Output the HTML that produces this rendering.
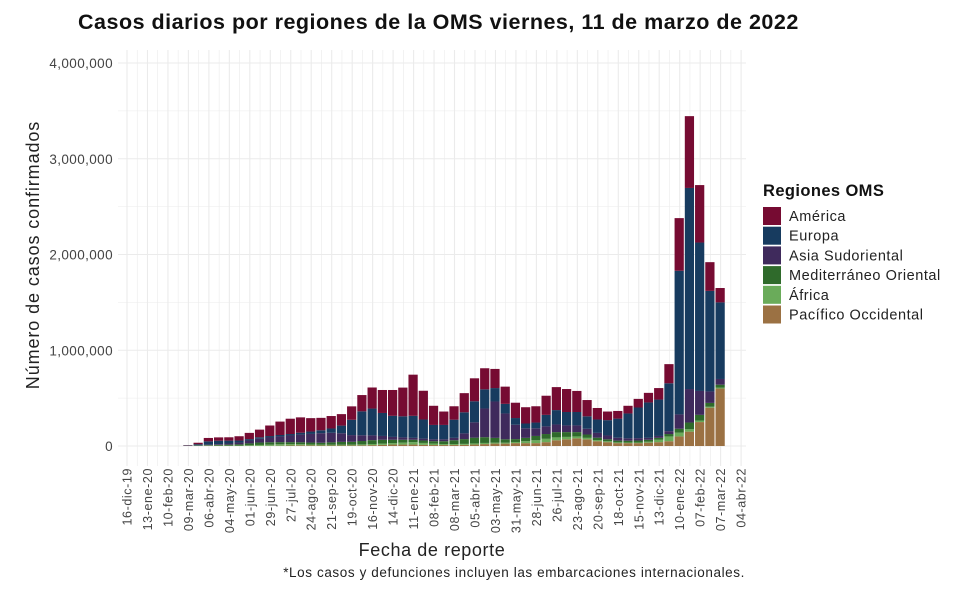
<!DOCTYPE html>
<html><head><meta charset="utf-8"><style>
body{margin:0;background:#fff;font-family:"Liberation Sans",sans-serif}
svg text{font-family:"Liberation Sans",sans-serif}
</style></head><body>
<svg id="chart" width="960" height="584" xmlns="http://www.w3.org/2000/svg">
<rect width="960" height="584" fill="#fff"/>
<text x="78" y="29" font-size="21.5" font-weight="bold" fill="#111" letter-spacing="0.5">Casos diarios por regiones de la OMS viernes, 11 de marzo de 2022</text>
<g id="grid"></g><g id="bars"></g><g id="axes"></g>
<text transform="translate(39,255) rotate(-90)" text-anchor="middle" font-size="18" letter-spacing="0.9" fill="#222">Número de casos confirmados</text>
<text x="432" y="556" text-anchor="middle" font-size="18" letter-spacing="0.6" fill="#222">Fecha de reporte</text>
<text x="745" y="577" text-anchor="end" font-size="13.5" letter-spacing="0.6" fill="#222">*Los casos y defunciones incluyen las embarcaciones internacionales.</text>
<g id="legend">
<text x="763" y="196" font-size="16.5" font-weight="bold" letter-spacing="0.4" fill="#111">Regiones OMS</text>
</g>
</svg>
<script>
const xLabels=["16-dic-19","13-ene-20","10-feb-20","09-mar-20","06-abr-20","04-may-20","01-jun-20","29-jun-20","27-jul-20","24-ago-20","21-sep-20","19-oct-20","16-nov-20","14-dic-20","11-ene-21","08-feb-21","08-mar-21","05-abr-21","03-may-21","31-may-21","28-jun-21","26-jul-21","23-ago-21","20-sep-21","18-oct-21","15-nov-21","13-dic-21","10-ene-22","07-feb-22","07-mar-22","04-abr-22"];
const yTicks=[0,1000000,2000000,3000000,4000000];
const yTickLabels=["0","1,000,000","2,000,000","3,000,000","4,000,000"];
const regions=["América","Europa","Asia Sudoriental","Mediterráneo Oriental","África","Pacífico Occidental"];
const colors=["#760b32","#173b5f","#3f2a5c","#2f6a2b","#6aab5a","#9b7143"];
// biweekly bins starting 2020-03-02 (day 77 from 16-dic-19), values in millions
const binStartDay=77, binDays=14;
const america=[.003,.015,.035,.035,.035,.045,.065,.08,.11,.14,.16,.16,.14,.13,.13,.12,.14,.17,.22,.24,.27,.3,.43,.3,.2,.14,.14,.2,.24,.22,.2,.18,.16,.17,.17,.2,.24,.24,.22,.17,.12,.09,.08,.08,.09,.1,.12,.2,.55,.75,.6,.3,.15];
const europa=[.004,.012,.035,.035,.03,.02,.015,.015,.015,.015,.015,.02,.025,.03,.045,.08,.16,.25,.28,.24,.22,.22,.23,.2,.15,.15,.19,.22,.22,.2,.14,.1,.07,.05,.06,.12,.15,.14,.14,.13,.14,.16,.2,.26,.32,.37,.38,.5,1.5,2.1,1.55,1.05,.8];
const asiaSud=[0,.001,.005,.008,.012,.02,.03,.04,.05,.06,.07,.08,.09,.1,.1,.09,.07,.06,.05,.04,.03,.025,.02,.02,.02,.02,.025,.06,.16,.3,.38,.27,.15,.1,.08,.08,.08,.07,.07,.06,.05,.04,.03,.025,.025,.02,.02,.03,.15,.35,.25,.12,.06];
const medOriental=[.001,.004,.005,.008,.01,.012,.02,.025,.025,.022,.02,.02,.02,.02,.025,.03,.03,.035,.04,.04,.035,.03,.025,.025,.025,.03,.04,.05,.06,.06,.05,.035,.03,.035,.045,.05,.055,.05,.045,.035,.025,.02,.018,.018,.02,.02,.02,.025,.04,.07,.06,.04,.03];
const africa=[0,.001,.002,.002,.003,.004,.006,.01,.012,.015,.015,.012,.01,.009,.008,.008,.008,.01,.012,.013,.015,.02,.025,.02,.015,.01,.01,.01,.012,.012,.01,.01,.012,.02,.03,.035,.03,.025,.02,.015,.012,.01,.008,.007,.007,.01,.025,.05,.04,.025,.015,.01,.01];
const pacifico=[.001,.001,.002,.002,.001,.001,.001,.001,.002,.003,.005,.007,.006,.005,.005,.005,.006,.007,.009,.012,.015,.015,.015,.012,.01,.01,.01,.012,.015,.02,.025,.025,.03,.03,.03,.04,.06,.07,.08,.07,.05,.04,.03,.03,.03,.035,.04,.05,.1,.15,.25,.4,.6];
const stackOrder=[pacifico,africa,medOriental,asiaSud,europa,america];
const stackColors=[colors[5],colors[4],colors[3],colors[2],colors[1],colors[0]];
const stackNames=["pacifico","africa","mediterraneo","asia-sudoriental","europa","america"];
const NS="http://www.w3.org/2000/svg";
const X0=127,PXD=20.47/28,Y0=446,PXM=95.75;
const x=d=>X0+d*PXD, y=v=>Y0-v*PXM/1e6;
function mk(t,a,p){const e=document.createElementNS(NS,t);for(const k in a)e.setAttribute(k,a[k]);p.appendChild(e);return e;}
const grid=document.getElementById('grid'),bars=document.getElementById('bars'),axes=document.getElementById('axes'),leg=document.getElementById('legend');
for(let v=0;v<=4000000;v+=500000){const l=mk('line',{x1:118,x2:746,y1:y(v),y2:y(v),stroke:'#ebebeb','stroke-width':v%1000000?0.6:1.1},grid);

}
for(let i=0;i<xLabels.length*2-1;i++){const xx=x(i*14);const l=mk('line',{x1:xx,x2:xx,y1:50,y2:466,stroke:'#ebebeb','stroke-width':i%2?0.6:1.1},grid);

}
yTicks.forEach((v,i)=>{const t=mk('text',{x:113,y:y(v)+5,'text-anchor':'end','font-size':13.5,'letter-spacing':0.4,fill:'#444'},axes);t.textContent=yTickLabels[i];

});
xLabels.forEach((s,i)=>{const xx=x(i*28)+4.5;const t=mk('text',{transform:`translate(${xx},468) rotate(-90)`,'text-anchor':'end','font-size':12.5,'letter-spacing':0.6,fill:'#444'},axes);t.textContent=s;

});
for(let b=0;b<america.length;b++){let cum=0;const x1=x(binStartDay+b*binDays),x2=x(binStartDay+(b+1)*binDays);
stackOrder.forEach((s,k)=>{const v=s[b]*1e6;const r=mk('rect',{x:x1,y:y(cum+v),width:Math.max(0,x2-x1-1),height:Math.max(0,y(cum)-y(cum+v)),fill:stackColors[k]},bars);

cum+=v;});}
regions.forEach((r,i)=>{const yy=207+i*19.7;const s=mk('rect',{x:763,y:yy,width:18,height:18,fill:colors[i]},leg);


const t=mk('text',{x:789,y:yy+14,'font-size':14.5,'letter-spacing':0.55,fill:'#222'},leg);t.textContent=r;

});
</script>
</body></html>
